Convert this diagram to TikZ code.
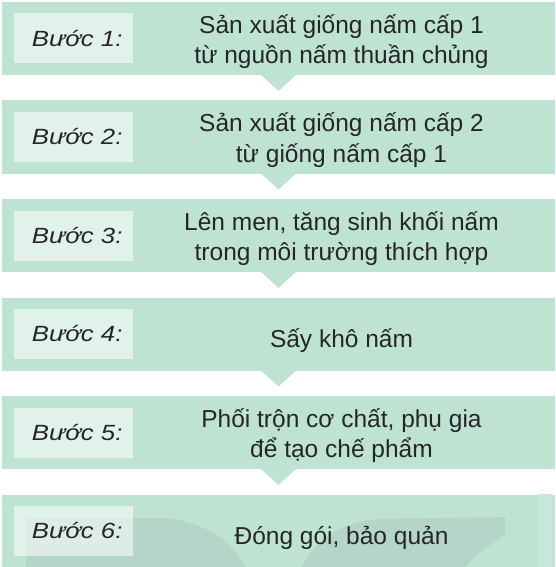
\documentclass[tikz,border=0pt]{standalone}
\usepackage{fontspec}
\setmainfont{Liberation Sans}
\newfontfamily\labelfont[FakeStretch=1.17]{Liberation Sans}
\usetikzlibrary{positioning}
\definecolor{bandgreen}{HTML}{BEE3D3}
\definecolor{markdark}{HTML}{B4D5C7}
\definecolor{marklight}{HTML}{C7E7DA}
\definecolor{textgrey}{HTML}{262626}

\begin{document}
\begin{tikzpicture}[x=1pt,y=-1pt]
  \tikzset{band/.style={rectangle, fill=bandgreen,
      minimum width=553pt,
      minimum height=73pt,
      inner sep=0pt, outer sep=0pt}}
  \tikzset{steplabel/.style={rectangle, fill=white, fill opacity=0.55,
      text opacity=1, text=textgrey,
      minimum width=119pt, minimum height=50pt, inner sep=0pt,
      font=\labelfont\itshape\fontsize{22}{26}\selectfont}}
  \tikzset{steptext/.style={align=center, text=textgrey,
      font=\fontsize{24.5}{30.5}\selectfont}}
  \tikzset{pointer/.style={fill=bandgreen}}
  \useasboundingbox (0,0) rectangle (555,567);
  % bands
  \node[band] (b1) at (278.5,38.5) {};
  \node[band] (b2) [below=25.5pt of b1] {};
  \node[band] (b3) [below=25.5pt of b2] {};
  \node[band] (b4) [below=25.5pt of b3] {};
  \node[band] (b5) [below=25.5pt of b4] {};
  \node[band] (b6) [below=25.5pt of b5] {};
  % logo in the last band
  \begin{scope}
    \clip (b6.north west) rectangle (b6.south east);
    \fill[marklight] (538,494) rectangle (552,567);
    \fill[markdark] (26,518) -- (165,518)
      .. controls (210,523) and (235,545) .. (245,567) -- (26,567) -- cycle;
    \fill[markdark] (302,567) .. controls (315,540) and (340,522) .. (380,519)
      -- (505,517) -- (505,535)
      .. controls (490,545) and (475,555) .. (465,567) -- cycle;
  \end{scope}
  % pointers
  \fill[pointer] ([xshift=-18pt,yshift=0.5pt]b1.south) -- ([yshift=-16pt]b1.south) -- ([xshift=18pt,yshift=0.5pt]b1.south) -- cycle;
  \fill[pointer] ([xshift=-18pt,yshift=0.5pt]b2.south) -- ([yshift=-16pt]b2.south) -- ([xshift=18pt,yshift=0.5pt]b2.south) -- cycle;
  \fill[pointer] ([xshift=-18pt,yshift=0.5pt]b3.south) -- ([yshift=-16pt]b3.south) -- ([xshift=18pt,yshift=0.5pt]b3.south) -- cycle;
  \fill[pointer] ([xshift=-18pt,yshift=0.5pt]b4.south) -- ([yshift=-16pt]b4.south) -- ([xshift=18pt,yshift=0.5pt]b4.south) -- cycle;
  \fill[pointer] ([xshift=-18pt,yshift=0.5pt]b5.south) -- ([yshift=-16pt]b5.south) -- ([xshift=18pt,yshift=0.5pt]b5.south) -- cycle;
  % labels
  \node[steplabel, anchor=west] (l1) at ([xshift=12pt]b1.west) {\hspace*{7pt}Bước 1:};
  \node[steplabel, anchor=west] (l2) at ([xshift=12pt]b2.west) {\hspace*{7pt}Bước 2:};
  \node[steplabel, anchor=west] (l3) at ([xshift=12pt]b3.west) {\hspace*{7pt}Bước 3:};
  \node[steplabel, anchor=west] (l4) at ([xshift=12pt]b4.west) {\hspace*{7pt}Bước 4:};
  \node[steplabel, anchor=west] (l5) at ([xshift=12pt]b5.west) {\hspace*{7pt}Bước 5:};
  \node[steplabel, anchor=west] (l6) at ([xshift=12pt]b6.west) {\hspace*{7pt}Bước 6:};
  % texts
  \node[steptext] (t1) at ([xshift=63pt,yshift=-3pt]b1.center) {Sản xuất giống nấm cấp 1\\từ nguồn nấm thuần chủng};
  \node[steptext] (t2) at ([xshift=63pt,yshift=-3pt]b2.center) {Sản xuất giống nấm cấp 2\\từ giống nấm cấp 1};
  \node[steptext] (t3) at ([xshift=63pt,yshift=-3pt]b3.center) {Lên men, tăng sinh khối nấm\\trong môi trường thích hợp};
  \node[steptext] (t4) at ([xshift=63pt,yshift=-7pt]b4.center) {Sấy khô nấm};
  \node[steptext] (t5) at ([xshift=63pt,yshift=-3pt]b5.center) {Phối trộn cơ chất, phụ gia\\để tạo chế phẩm};
  \node[steptext] (t6) at ([xshift=63pt,yshift=-7pt]b6.center) {Đóng gói, bảo quản};
\end{tikzpicture}
\end{document}
